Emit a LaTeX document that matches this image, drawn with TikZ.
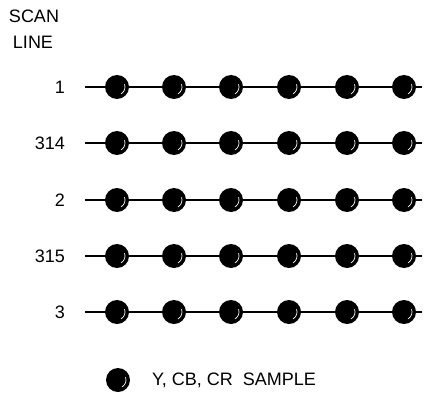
\documentclass[tikz,border=0pt]{standalone}
\usepackage{fontspec}
\setmainfont{Liberation Sans}
\begin{document}
\begin{tikzpicture}[x=1pt, y=-1pt,
  txt/.style={font=\fontsize{18}{18}\selectfont, inner sep=0pt},
  lbl/.style={txt, anchor=east},
  dot/.style={circle, fill=black, minimum width=22pt, minimum height=24pt, inner sep=0pt},
  shine/.style={white, line width=0.7pt},
  scan/.style={line width=2.5pt}]
\useasboundingbox (0,0) rectangle (430,393);
\node[txt] (scan) at (34,16) {SCAN};
\node[txt] (line) at (33,42) {LINE};
\foreach \r/\y/\t in {a/87/1, b/143/314, c/200/2, d/256/315, e/312/3} {
  \node[lbl] (\r-lbl) at (65,\y) {\t};
  \coordinate (\r-l) at (85,\y);
  \coordinate (\r-r) at (422,\y);
  \draw[scan] (\r-l) -- (\r-r);
  \foreach \i/\x in {1/117, 2/174, 3/231, 4/289, 5/347, 6/404} {
    \node[dot] (\r\i) at (\x,\y) {};
    \draw[shine] ([shift={(-20:8)}]\r\i.center) arc (-20:60:8);
  }
}
% legend
\node[dot] (key) at (118,380) {};
\draw[shine] ([shift={(-20:8)}]key.center) arc (-20:60:8);
\node[txt, anchor=west] (keytxt) at (152,380) {Y, CB, CR\ \ SAMPLE};
\end{tikzpicture}
\end{document}
